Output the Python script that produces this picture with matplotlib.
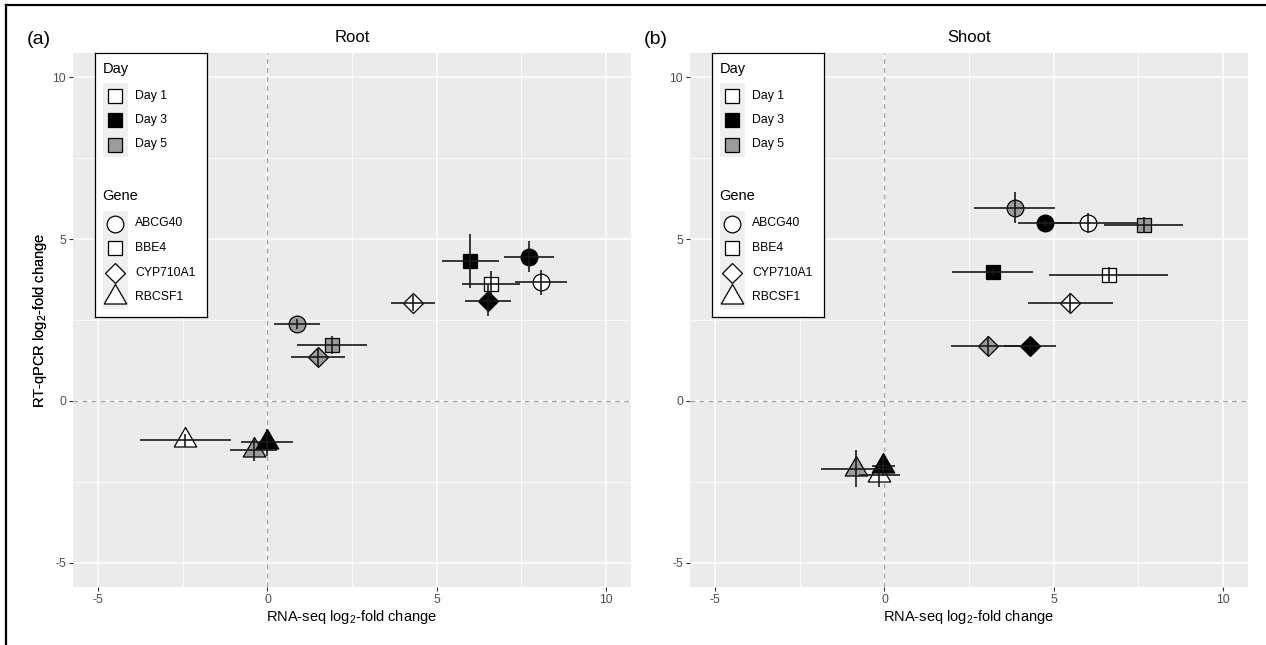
import matplotlib
matplotlib.use('Agg')
import matplotlib.pyplot as plt
from matplotlib.path import Path
from matplotlib.lines import Line2D
from matplotlib.patches import Rectangle

plt.rcParams['font.family'] = ['Liberation Sans', 'DejaVu Sans']
plt.rcParams['mathtext.fontset'] = 'custom'
plt.rcParams['mathtext.rm'] = 'Liberation Sans'
plt.rcParams['mathtext.it'] = 'Liberation Sans:italic'
plt.rcParams['axes.unicode_minus'] = False

genes = ['ABCG40', 'BBE4', 'CYP710A1', 'RBCSF1']
days = ['Day 1', 'Day 3', 'Day 5']

# one row per gene x day, same order in both panels
pt_gene = ['ABCG40'] * 3 + ['BBE4'] * 3 + ['CYP710A1'] * 3 + ['RBCSF1'] * 3
pt_day = ['Day 1', 'Day 3', 'Day 5'] * 4

root_x = [8.09, 7.73, 0.86, 6.61, 6.00, 1.90, 4.29, 6.52, 1.50, -2.43, 0.00, -0.41]
root_y = [3.66, 4.45, 2.38, 3.61, 4.32, 1.72, 3.03, 3.10, 1.35, -1.22, -1.28, -1.52]
root_xerr = [0.78, 0.75, 0.68, 0.87, 0.85, 1.04, 0.65, 0.67, 0.80, 1.35, 0.77, 0.69]
root_yerr = [0.39, 0.48, 0.15, 0.39, 0.84, 0.28, 0.25, 0.47, 0.29, 0.20, 0.42, 0.35]

shoot_x = [6.02, 4.74, 3.85, 6.63, 3.20, 7.66, 5.50, 4.31, 3.05, -0.15, -0.03, -0.84]
shoot_y = [5.50, 5.50, 5.97, 3.89, 3.99, 5.43, 3.03, 1.70, 1.70, -2.29, -2.02, -2.09]
shoot_xerr = [1.49, 0.80, 1.19, 1.75, 1.19, 1.18, 1.27, 0.77, 1.07, 0.60, 0.33, 1.04]
shoot_yerr = [0.31, 0.10, 0.47, 0.25, 0.10, 0.25, 0.29, 0.10, 0.30, 0.37, 0.30, 0.57]

ticks = [-5, 0, 5, 10]
minor_ticks = [-2.5, 2.5, 7.5]

# R-style triangle (centroid at the data point)
tri = Path([(0, 0.583), (-0.505, -0.292), (0.505, -0.292), (0, 0.583)],
           [Path.MOVETO, Path.LINETO, Path.LINETO, Path.CLOSEPOLY])
shape_of = {'ABCG40': 'o', 'BBE4': 's', 'CYP710A1': 'D', 'RBCSF1': tri}
size_of = {'ABCG40': 12, 'BBE4': 10.6, 'CYP710A1': 10.6, 'RBCSF1': 18.7}
fill_of = {'Day 1': 'white', 'Day 3': 'black', 'Day 5': '#9c9c9c'}
layer_of = {'Day 1': 0, 'Day 5': 1, 'Day 3': 2}

W, H = 1266, 645
fig = plt.figure(figsize=(W / 100, H / 100), dpi=100)


def fx(px):
    return px / W


def fy(py):
    return 1 - py / H


def panel(left, x, y, xerr, yerr, title, tag):
    ax = fig.add_axes([fx(left), fy(587), 558 / W, 534 / H])
    ax.set_facecolor('#ebebeb')
    for s in ax.spines.values():
        s.set_visible(False)
    ax.set_xlim(-5.75, 10.75)
    ax.set_ylim(-5.75, 10.75)
    ax.set_xticks(ticks)
    ax.set_yticks(ticks)
    ax.set_xticks(minor_ticks, minor=True)
    ax.set_yticks(minor_ticks, minor=True)
    ax.tick_params(which='major', length=3, width=0.8, color='#333333',
                   labelsize=8.8, labelcolor='#4d4d4d', pad=2)
    ax.tick_params(which='minor', length=0)
    ax.grid(which='major', color='white', lw=1.1)
    ax.grid(which='minor', color='white', lw=0.55)
    ax.set_axisbelow(True)
    ax.axhline(0, color='#a8a8a8', lw=1.0, dashes=(3.5, 3), zorder=1)
    ax.axvline(0, color='#a8a8a8', lw=1.0, dashes=(3.5, 3), zorder=1)

    order = sorted(range(len(x)), key=lambda i: layer_of[pt_day[i]])
    for i in order:
        g, d = pt_gene[i], pt_day[i]
        ax.plot(x[i], y[i], marker=shape_of[g], ms=size_of[g], mfc=fill_of[d],
                mec='black', mew=0.9, ls='none', zorder=3)
    for i in order:
        ax.errorbar(x[i], y[i], xerr=xerr[i], yerr=yerr[i], fmt='none',
                    ecolor='#1a1a1a', elinewidth=1.2, capsize=0, zorder=4)

    ax.set_xlabel('RNA-seq log$_{2}$-fold change', fontsize=10.5)
    ax.set_ylabel('RT-qPCR log$_{2}$-fold change', fontsize=10.5)
    ax.xaxis.label.set_va('center')
    ax.yaxis.label.set_va('center')
    ax.xaxis.set_label_coords(0.5, (587 - 617) / 534)
    ax.yaxis.set_label_coords((40 - left) / 558, 0.5)

    fig.text(fx(left + 279), fy(38), title, fontsize=12, ha='center', va='center')
    fig.text(fx(left - 46), fy(39), tag, fontsize=14, ha='left', va='center')

    # legend box
    lw_, lh_ = 112, 264
    lax = fig.add_axes([fx(left + 22), fy(53 + lh_), lw_ / W, lh_ / H])
    lax.set_xlim(0, lw_)
    lax.set_ylim(lh_, 0)
    lax.set_xticks([])
    lax.set_yticks([])
    for s in lax.spines.values():
        s.set_color('black')
        s.set_linewidth(0.9)
    lax.set_facecolor('white')

    row = 24.5
    lax.text(7.5, 16, 'Day', fontsize=10.5, va='center', ha='left')
    lax.add_patch(Rectangle((7.5, 30), 25, row * len(days), color='#efefef', lw=0))
    for k, d in enumerate(days):
        yy = 42.5 + k * row
        lax.plot(20, yy, marker='s', ms=10.6, mfc=fill_of[d], mec='black', mew=0.9,
                 ls='none', clip_on=False)
        lax.text(40, yy, d, fontsize=8.8, va='center', ha='left')

    lax.text(7.5, 143.5, 'Gene', fontsize=10.5, va='center', ha='left')
    lax.add_patch(Rectangle((7.5, 158), 25, row * len(genes), color='#efefef', lw=0))
    for k, g in enumerate(genes):
        yy = 170.5 + k * row
        lax.plot(20, yy, marker=shape_of[g], ms=size_of[g], mfc='white', mec='black',
                 mew=0.9, ls='none', clip_on=False)
        lax.text(40, yy, g, fontsize=8.8, va='center', ha='left')
    return ax


panel(73, root_x, root_y, root_xerr, root_yerr, 'Root', '(a)')
panel(690, shoot_x, shoot_y, shoot_xerr, shoot_yerr, 'Shoot', '(b)')

# figure border (left and top edges visible)
fig.add_artist(Line2D([fx(5.7), fx(5.7)], [0, fy(5)], color='black', lw=1.6))
fig.add_artist(Line2D([fx(5.7), 1], [fy(5), fy(5)], color='black', lw=1.6))

fig.savefig('out.png', dpi=100)
